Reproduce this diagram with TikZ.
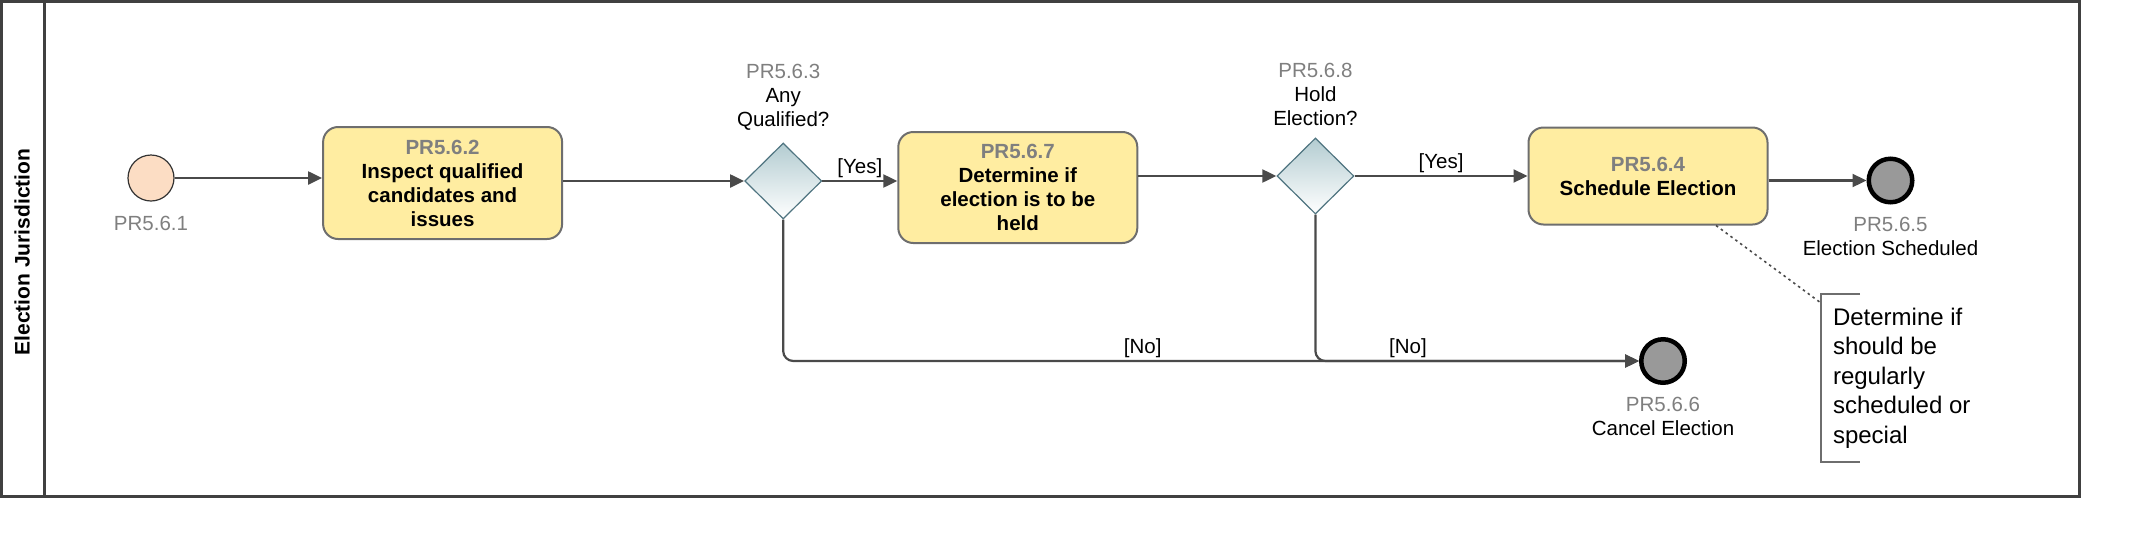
\documentclass[tikz,border=0pt]{standalone}
\usepackage{fontspec}
\setmainfont{Liberation Sans}
\usepackage{xcolor}
\usepackage{tikz}
\usetikzlibrary{arrows.meta,
                positioning,
                shapes.geometric}
\definecolor{taskfill}{HTML}{FFEDA1}
\definecolor{taskline}{HTML}{6E6E6E}
\definecolor{startfill}{HTML}{FCDDC4}
\definecolor{gwfill}{HTML}{B3CCD1}
\definecolor{gwline}{HTML}{4F7480}
\definecolor{endfill}{HTML}{999999}
\definecolor{idgray}{HTML}{7F7F7F}
\definecolor{flowgray}{HTML}{4A4A4A}
\definecolor{poolgray}{HTML}{404040}
\tikzstyle{flow} = [line width=2.2pt,draw=flowgray,-{Triangle[length=14pt,width=13pt]}]
\tikzstyle{assoc} = [line width=1.6pt,draw=flowgray,dash pattern=on 2.5pt off 3.5pt]
\tikzstyle{task} = [rectangle,rounded corners=15pt,fill=taskfill,draw=taskline,line width=2pt,
                    minimum width=239pt,align=center,font=\fontsize{20.5}{24}\selectfont\bfseries]
\tikzstyle{gateway} = [diamond,draw=gwline,line width=1.2pt,top color=gwfill,bottom color=white,
                       inner sep=0pt,minimum width=77pt,minimum height=76pt]
\tikzstyle{lbl} = [inner sep=0pt,align=center,font=\fontsize{20.5}{24}\selectfont]
\tikzstyle{edgelbl} = [inner sep=2pt,font=\fontsize{20.5}{24}\selectfont]

\begin{document}
\begin{tikzpicture}[x=1pt,y=-1pt]
    \useasboundingbox (0,0) rectangle (2138,558);

    % pool and lane
    \draw[poolgray, line width=3pt] (1.5,1.5) rectangle (2079,496);
    \draw[poolgray, line width=3pt] (44,1.5) -- (44,496);
    \node[rotate=90, font=\fontsize{21}{24}\selectfont\bfseries] (lane) at (22,252) {Election Jurisdiction};

    % events, tasks and gateways
    \node[circle,fill=startfill,draw=black!80,line width=1.2pt,minimum size=46pt,inner sep=0pt] (start) at (151,178) {};
    \node[task,minimum height=112pt] (task1) [right=147.5pt of start, yshift=-5pt] {{\color{idgray}PR5.6.2}\\Inspect qualified\\candidates and\\issues};
    \node[gateway] (gw1) [right=181pt of task1, yshift=2pt] {};
    \node[task,minimum height=111pt] (task2) [right=75pt of gw1, yshift=-6.5pt] {{\color{idgray}PR5.6.7}\\Determine if\\election is to be\\held};
    \node[gateway] (gw2) [right=138pt of task2, yshift=11.5pt] {};
    \node[task,minimum height=97pt] (task3) [right=173pt of gw2] {{\color{idgray}PR5.6.4}\\Schedule Election};
    \node[circle,fill=endfill,draw=black,line width=4.5pt,minimum size=43.5pt,inner sep=0pt] (end1) [right=98pt of task3, yshift=-4.5pt] {};
    \node[circle,fill=endfill,draw=black,line width=4.5pt,minimum size=43.5pt,inner sep=0pt] (end2) at (1663,361) {};

    % labels
    \node[lbl, below=14pt of start] (startlbl) {\color{idgray}PR5.6.1};
    \node[lbl, above=12pt of gw1] (gw1lbl) {{\color{idgray}PR5.6.3}\\Any\\Qualified?};
    \node[lbl, above=12pt of gw2] (gw2lbl) {{\color{idgray}PR5.6.8}\\Hold\\Election?};
    \node[lbl, below=12pt of end1] (end1lbl) {{\color{idgray}PR5.6.5}\\Election Scheduled};
    \node[lbl, below=12pt of end2] (end2lbl) {{\color{idgray}PR5.6.6}\\Cancel Election};

    % annotation
    \node[anchor=west, align=left, inner xsep=12pt, inner ysep=0pt, outer sep=0pt, minimum height=168pt,
          font=\fontsize{24}{29.5}\selectfont] (note) at (1821,378) {Determine if\\should be\\regularly\\scheduled or\\special};
    \draw[taskline, line width=2pt] ([xshift=39pt]note.north west) -- (note.north west) -- (note.south west) -- ([xshift=39pt]note.south west);
    \draw[assoc] ([xshift=68pt]task3.south) -- ([yshift=-9pt]note.north west);

    % sequence flows
    \draw[flow] (start) -- (start -| task1.west);
    \draw[flow] (task1.east |- gw1) -- (gw1);
    \draw[flow] (gw1) -- (gw1 -| task2.west) node[edgelbl, midway, above] {[Yes]};
    \draw[flow] (task2.east |- gw2) -- (gw2);
    \draw[flow] (gw2) -- (gw2 -| task3.west) node[edgelbl, midway, above] {[Yes]};
    \draw[flow] (task3.east |- end1) -- (end1);
    \draw[flow, rounded corners=10pt] (gw1) |- (end2) node[edgelbl, pos=0.71, above] {[No]};
    \draw[flow, rounded corners=10pt] (gw2) |- (end2) node[edgelbl, pos=0.643, above] {[No]};
\end{tikzpicture}
\end{document}
